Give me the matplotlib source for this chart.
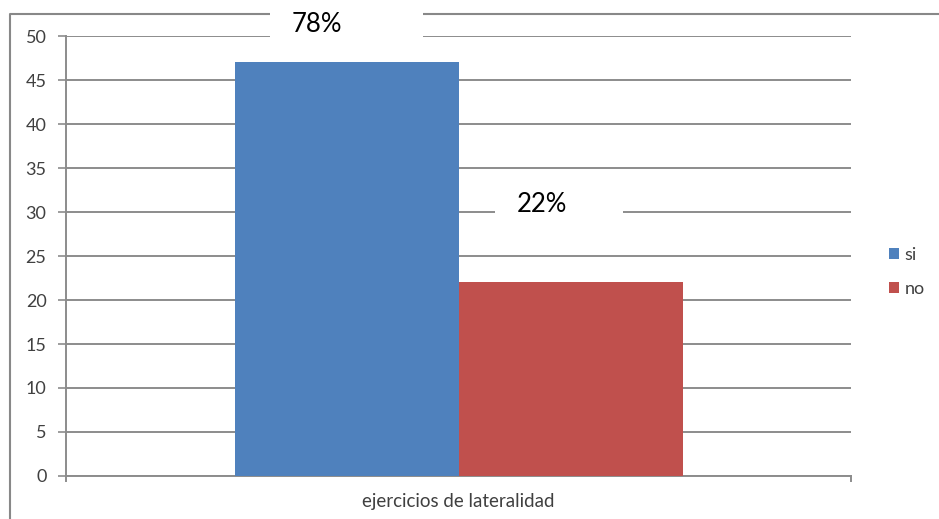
import matplotlib.pyplot as plt
from matplotlib.patches import Rectangle
from matplotlib.lines import Line2D

# data
category = 'ejercicios de lateralidad'
series = ['si', 'no']
values = [47, 22]
pct_labels = ['78%', '22%']
colors = ['#4f81bd', '#c0504d']

plt.rcParams['font.family'] = ['Lato', 'DejaVu Sans']

W, H = 939, 519
fig = plt.figure(figsize=(W / 100, H / 100), dpi=100)
ax = fig.add_axes([66 / W, 1 - 476 / H, (851 - 66) / W, (476 - 36) / H])

grid_c = '#8c8c8c'
bw = 224 / 785
offsets = [-bw / 2, bw / 2]
for s, v, c, off in zip(series, values, colors, offsets):
    ax.bar(off, v, width=bw, color=c, label=s, zorder=3)

ax.set_xlim(-0.5, 0.5)
ax.set_ylim(0, 50)
ax.set_yticks(range(0, 51, 5))
ax.yaxis.grid(True, color=grid_c, lw=1.4, zorder=0)
ax.set_axisbelow(True)
ax.set_xticks([0])
ax.set_xticklabels([category])
ax.tick_params(axis='x', length=0, pad=12, labelsize=13.5, labelcolor='#404040')
ax.tick_params(axis='y', length=6, width=1.2, color=grid_c, pad=8,
               labelsize=13, labelcolor='#404040')
for side in ['top', 'right']:
    ax.spines[side].set_visible(False)
ax.spines['left'].set_color(grid_c)
ax.spines['left'].set_linewidth(1.4)
ax.spines['bottom'].set_color(grid_c)
ax.spines['bottom'].set_linewidth(1.4)
# small end ticks on the category axis
for xe in [-0.5, 0.5]:
    ax.plot([xe, xe], [0, -0.6], color=grid_c, lw=1.4, clip_on=False)

# legend
ax.legend(loc='center left', bbox_to_anchor=(880 / W, 1 - 272 / H),
          bbox_transform=fig.transFigure, frameon=False, fontsize=13,
          handlelength=0.55, handleheight=0.55, handletextpad=0.3,
          labelspacing=1.0, labelcolor='#404040', borderpad=0)

# outer frame
fig.add_artist(Line2D([10 / W, 10 / W, 1], [0, 1 - 14 / H, 1 - 14 / H],
                      color='#888888', lw=1.5, transform=fig.transFigure))

# percentage labels in white boxes
boxes = [(270, 0, 423, 40, 317, 24), (495, 195, 623, 225, 542, 205)]
for (x0, y0, x1, y1, tx, ty), lab in zip(boxes, pct_labels):
    fig.add_artist(Rectangle((x0 / W, 1 - y1 / H), (x1 - x0) / W, (y1 - y0) / H,
                             transform=fig.transFigure, facecolor='white',
                             edgecolor='none', zorder=5))
    fig.text(tx / W, 1 - ty / H, lab, ha='center', va='center', fontsize=18.5,
             color='black', zorder=6)

fig.savefig('out.png', dpi=100)
